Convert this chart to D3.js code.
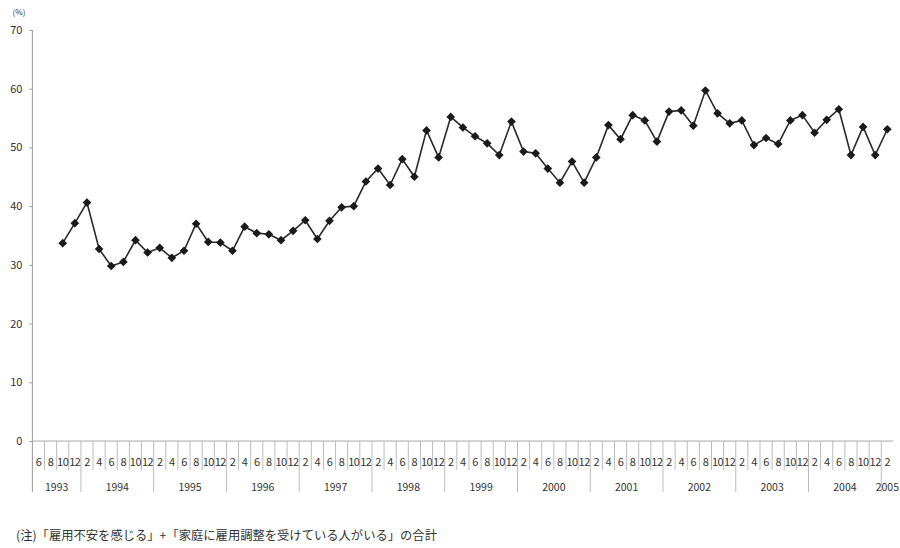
<!DOCTYPE html>
<html><head><meta charset="utf-8">
<script src="https://cdn.jsdelivr.net/npm/d3@7"></script>
<style>
body{margin:0;background:#fff;}
svg{display:block;font-family:"Noto Sans CJK JP","DejaVu Sans",sans-serif;}
</style></head>
<body>
<svg id="chart" width="900" height="548"></svg>
<script>
// Month labels (bimonthly) for each slot on the x axis
const monthLabels = [
  "6","8","10","12",
  "2","4","6","8","10","12",
  "2","4","6","8","10","12",
  "2","4","6","8","10","12",
  "2","4","6","8","10","12",
  "2","4","6","8","10","12",
  "2","4","6","8","10","12",
  "2","4","6","8","10","12",
  "2","4","6","8","10","12",
  "2","4","6","8","10","12",
  "2","4","6","8","10","12",
  "2","4","6","8","10","12",
  "2"
];
const years = ["1993","1994","1995","1996","1997","1998","1999","2000","2001","2002","2003","2004","2005"];
const monthsPerYear = [4,6,6,6,6,6,6,6,6,6,6,6,1];
// Values (%) per slot; no survey for Jun/Aug 1993
const values = [
  null, null, 33.7, 37.1,
  40.6, 32.7, 29.8, 30.5, 34.2, 32.1,
  32.9, 31.2, 32.4, 37.0, 33.9, 33.8,
  32.4, 36.5, 35.4, 35.2, 34.2, 35.8,
  37.6, 34.4, 37.5, 39.8, 40.0, 44.2,
  46.4, 43.6, 48.0, 45.0, 52.9, 48.3,
  55.2, 53.4, 51.9, 50.7, 48.7, 54.4,
  49.3, 49.0, 46.4, 44.0, 47.6, 44.0,
  48.3, 53.8, 51.4, 55.5, 54.6, 51.0,
  56.1, 56.3, 53.7, 59.7, 55.8, 54.1,
  54.6, 50.4, 51.6, 50.6, 54.6, 55.5,
  52.5, 54.7, 56.5, 48.7, 53.5, 48.7,
  53.1
];
const yTicks = [0,10,20,30,40,50,60,70];
const unitLabel = "(%)";
const note = "(注)「雇用不安を感じる」+「家庭に雇用調整を受けている人がいる」の合計";

const svg = d3.select("#chart");
const mLeft = 32.4, mRight = 893.4, mTop = 30, mBottom = 441;
const x = d3.scaleBand().domain(d3.range(monthLabels.length)).range([mLeft, mRight]).padding(0);
const y = d3.scaleLinear().domain([0,70]).range([mBottom, mTop]);
const bw = x.bandwidth();
const textCol = "#333";
const lineCol = "#bdbdbd";

// y axis
const yAxis = d3.axisLeft(y).tickValues(yTicks).tickSize(3).tickPadding(7);
const gy = svg.append("g").attr("transform", `translate(${mLeft},0)`).call(yAxis);
gy.select(".domain").remove();
gy.selectAll(".tick line").attr("stroke", "#999");
gy.selectAll(".tick text").attr("fill", textCol).attr("font-size", 11).attr("font-family", "Noto Sans CJK JP, sans-serif");

svg.append("text").attr("x", 19).attr("y", 15).attr("text-anchor", "middle")
  .attr("font-size", 8).attr("fill", textCol).text(unitLabel);

// year boundaries
const yearStart = [];
let acc = 0;
monthsPerYear.forEach(n => { yearStart.push(acc); acc += n; });
const yearBoundarySet = new Set(yearStart);

// month tick lines
const boundaries = d3.range(1, monthLabels.length);
svg.append("g").selectAll("line").data(boundaries).join("line")
  .attr("x1", d => x(d)).attr("x2", d => x(d))
  .attr("y1", mBottom).attr("y2", d => yearBoundarySet.has(d) ? 492 : 470)
  .attr("stroke", lineCol).attr("stroke-width", 1);

// y axis line (extends into label area)
svg.append("line").attr("x1", mLeft).attr("x2", mLeft).attr("y1", mTop).attr("y2", 492)
  .attr("stroke", "#999").attr("stroke-width", 1);
// x axis line
svg.append("line").attr("x1", mLeft).attr("x2", mRight).attr("y1", mBottom).attr("y2", mBottom)
  .attr("stroke", "#aaa").attr("stroke-width", 1);

// month labels
svg.append("g").selectAll("text").data(monthLabels).join("text")
  .attr("x", (d,i) => x(i) + bw/2).attr("y", 466)
  .attr("text-anchor", "middle").attr("font-size", 11).attr("fill", textCol)
  .attr("letter-spacing", -0.5)
  .text(d => d);

// year labels
svg.append("g").selectAll("text").data(years).join("text")
  .attr("x", (d,i) => x(yearStart[i]) + monthsPerYear[i]*bw/2)
  .attr("y", 491)
  .attr("text-anchor", "middle").attr("font-size", 10.5).attr("fill", textCol)
  .text(d => d);

// data line
const pts = values.map((v,i) => ({i, v})).filter(d => d.v !== null);
const line = d3.line().x(d => x(d.i) + bw/2).y(d => y(d.v));
svg.append("path").datum(pts).attr("d", line)
  .attr("fill", "none").attr("stroke", "#2a2a2a").attr("stroke-width", 1.6);

// diamond markers
const diamond = d3.symbol().type(d3.symbolDiamond2).size(48);
svg.append("g").selectAll("path").data(pts).join("path")
  .attr("d", diamond)
  .attr("transform", d => `translate(${x(d.i)+bw/2},${y(d.v)})`)
  .attr("fill", "#1a1a1a");

// footnote
svg.append("text").attr("x", 16).attr("y", 540).attr("font-size", 12.3)
  .attr("fill", textCol).text(note);
</script>
</body></html>
